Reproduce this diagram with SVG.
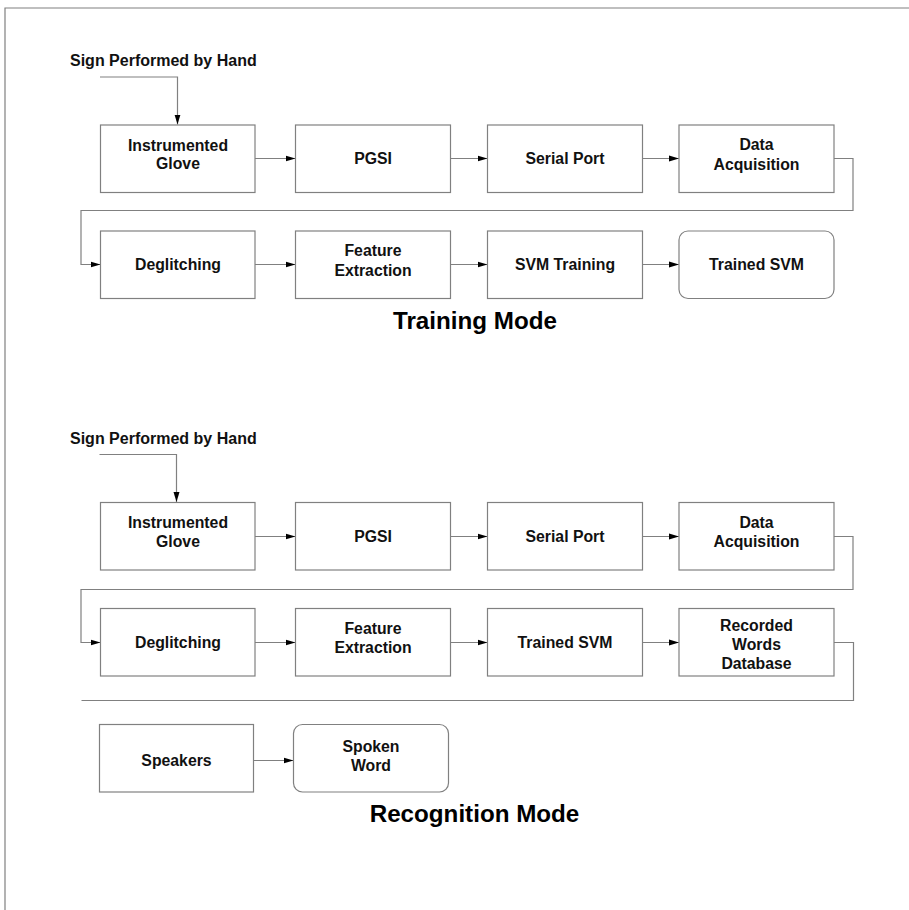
<svg xmlns="http://www.w3.org/2000/svg" width="909" height="910" viewBox="0 0 909 910">
<style>
.box{fill:#fff;stroke:#808080;stroke-width:1.2}
.ln{fill:none;stroke:#808080;stroke-width:1.2}
.t{font-family:"Liberation Sans",Arial,sans-serif;font-weight:bold;font-size:15.8px;fill:#111;text-anchor:middle}
.h{font-family:"Liberation Sans",Arial,sans-serif;font-weight:bold;font-size:24.2px;fill:#000;text-anchor:middle}
.s{font-family:"Liberation Sans",Arial,sans-serif;font-weight:bold;font-size:16px;fill:#111}
</style>
<defs>
<marker id="ah" markerWidth="10" markerHeight="7" refX="10" refY="3.5" orient="auto" markerUnits="userSpaceOnUse">
<path d="M0,0.5 L10,3.5 L0,6.5 Z" fill="#000"/>
</marker>
</defs>
<rect x="0" y="0" width="909" height="910" fill="#fff"/>
<path class="ln" d="M5,910 V8 H909"/>

<g id="connectors">
<path class="ln" d="M100,77 H177.5 V124.5" marker-end="url(#ah)"/>
<path class="ln" d="M255,158.5 H295.5" marker-end="url(#ah)"/>
<path class="ln" d="M450.5,158.5 H487.5" marker-end="url(#ah)"/>
<path class="ln" d="M642.5,158.5 H679" marker-end="url(#ah)"/>
<path class="ln" d="M834,158.5 H853 V210.5 H81 V264.5 H100.5" marker-end="url(#ah)"/>
<path class="ln" d="M255,264.5 H295.5" marker-end="url(#ah)"/>
<path class="ln" d="M450.5,264.5 H487.5" marker-end="url(#ah)"/>
<path class="ln" d="M642.5,264.5 H679" marker-end="url(#ah)"/>

<path class="ln" d="M99.5,454.5 H176.5 V502" marker-end="url(#ah)"/>
<path class="ln" d="M255,536.5 H295.5" marker-end="url(#ah)"/>
<path class="ln" d="M450.5,536.5 H487.5" marker-end="url(#ah)"/>
<path class="ln" d="M642.5,536.5 H679" marker-end="url(#ah)"/>
<path class="ln" d="M834,536.5 H853 V589.5 H81 V642.5 H100.5" marker-end="url(#ah)"/>
<path class="ln" d="M255,642.5 H295.5" marker-end="url(#ah)"/>
<path class="ln" d="M450.5,642.5 H487.5" marker-end="url(#ah)"/>
<path class="ln" d="M642.5,642.5 H679" marker-end="url(#ah)"/>
<path class="ln" d="M834,642.5 H853.5 V700.5 H81.5"/>
<path class="ln" d="M253.5,760.5 H293.5" marker-end="url(#ah)"/>
</g>

<text class="s" x="70" y="65.5">Sign Performed by Hand</text>
<text class="s" x="70" y="443.5">Sign Performed by Hand</text>

<g id="t1"><rect class="box" x="100.5" y="125" width="154.5" height="67.5"/><text class="t" x="178" y="150.5">Instrumented</text><text class="t" x="178" y="169">Glove</text></g>
<g id="t2"><rect class="box" x="295.5" y="125" width="155" height="67.5"/><text class="t" x="373" y="164">PGSI</text></g>
<g id="t3"><rect class="box" x="487.5" y="125" width="155" height="67.5"/><text class="t" x="565" y="164">Serial Port</text></g>
<g id="t4"><rect class="box" x="679" y="125" width="155" height="67.5"/><text class="t" x="756.5" y="150">Data</text><text class="t" x="756.5" y="169.5">Acquisition</text></g>
<g id="t5"><rect class="box" x="100.5" y="231" width="154.5" height="67.5"/><text class="t" x="178" y="270">Deglitching</text></g>
<g id="t6"><rect class="box" x="295.5" y="231" width="155" height="67.5"/><text class="t" x="373" y="256">Feature</text><text class="t" x="373" y="275.5">Extraction</text></g>
<g id="t7"><rect class="box" x="487.5" y="231" width="155" height="67.5"/><text class="t" x="565" y="270">SVM Training</text></g>
<g id="t8"><rect class="box" x="679" y="231" width="155" height="67.5" rx="9"/><text class="t" x="756.5" y="270">Trained SVM</text></g>
<text class="h" x="475" y="328.5">Training Mode</text>

<g id="r1"><rect class="box" x="100.5" y="502.5" width="154.5" height="67.5"/><text class="t" x="178" y="528">Instrumented</text><text class="t" x="178" y="547">Glove</text></g>
<g id="r2"><rect class="box" x="295.5" y="502.5" width="155" height="67.5"/><text class="t" x="373" y="542">PGSI</text></g>
<g id="r3"><rect class="box" x="487.5" y="502.5" width="155" height="67.5"/><text class="t" x="565" y="542">Serial Port</text></g>
<g id="r4"><rect class="box" x="679" y="502.5" width="155" height="67.5"/><text class="t" x="756.5" y="527.5">Data</text><text class="t" x="756.5" y="547">Acquisition</text></g>
<g id="r5"><rect class="box" x="100.5" y="608.5" width="154.5" height="67.5"/><text class="t" x="178" y="648">Deglitching</text></g>
<g id="r6"><rect class="box" x="295.5" y="608.5" width="155" height="67.5"/><text class="t" x="373" y="633.5">Feature</text><text class="t" x="373" y="653">Extraction</text></g>
<g id="r7"><rect class="box" x="487.5" y="608.5" width="155" height="67.5"/><text class="t" x="565" y="648">Trained SVM</text></g>
<g id="r8"><rect class="box" x="679" y="608.5" width="155" height="67.5"/><text class="t" x="756.5" y="630.5">Recorded</text><text class="t" x="756.5" y="649.5">Words</text><text class="t" x="756.5" y="668.5">Database</text></g>
<g id="r9"><rect class="box" x="99.5" y="724.5" width="154" height="67.5"/><text class="t" x="176.5" y="766">Speakers</text></g>
<g id="r10"><rect class="box" x="293.5" y="724.5" width="155" height="67.5" rx="9"/><text class="t" x="371" y="751.5">Spoken</text><text class="t" x="371" y="770.5">Word</text></g>
<text class="h" x="474.5" y="822">Recognition Mode</text>
</svg>
